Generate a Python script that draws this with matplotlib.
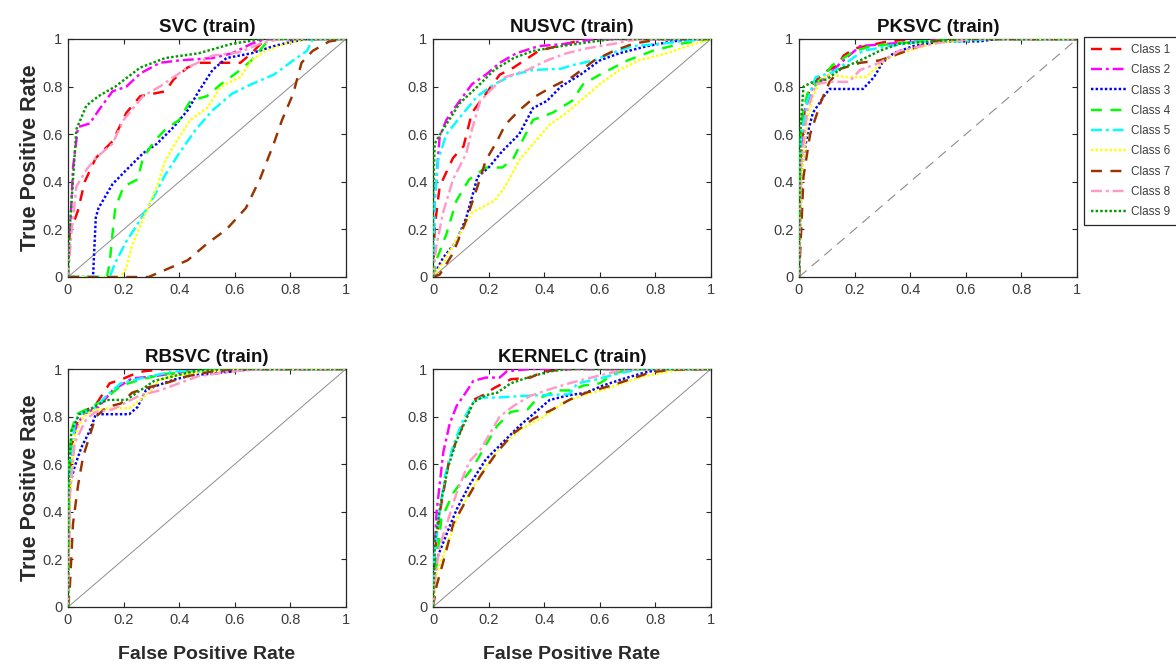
import matplotlib
matplotlib.use("Agg")
import matplotlib.pyplot as plt
from matplotlib.ticker import FixedLocator, FuncFormatter

plt.rcParams["font.family"] = ["Liberation Sans", "DejaVu Sans"]

# ---------------------------------------------------------------- data
class_names = ["Class 1", "Class 2", "Class 3", "Class 4", "Class 5",
               "Class 6", "Class 7", "Class 8", "Class 9"]
class_colors = ["#ff0000", "#ff00ff", "#0000ff", "#00ff00", "#00ffff",
                "#ffff00", "#993300", "#ff99c8", "#009900"]

model_titles = ["SVC (train)", "NUSVC (train)", "PKSVC (train)",
                "RBSVC (train)", "KERNELC (train)"]

ticks = [0, 0.2, 0.4, 0.6, 0.8, 1]

# ROC points (FPR, TPR) per class, Class 1 .. Class 9
svc_roc = [
    [(0, 0), (0.006, 0.18), (0.036, 0.28), (0.06, 0.40), (0.10, 0.50), (0.16, 0.57), (0.21, 0.69),
     (0.26, 0.76), (0.35, 0.78), (0.38, 0.83), (0.43, 0.88), (0.47, 0.90), (0.62, 0.90),
     (0.66, 0.94), (0.71, 1.0), (1, 1)],
    [(0, 0), (0.018, 0.46), (0.036, 0.63), (0.078, 0.645), (0.11, 0.70), (0.16, 0.78), (0.21, 0.80),
     (0.26, 0.855), (0.33, 0.90), (0.40, 0.91), (0.52, 0.92), (0.59, 0.94), (0.66, 0.98),
     (0.71, 1.0), (1, 1)],
    [(0, 0), (0.09, 0), (0.10, 0.25), (0.11, 0.29), (0.16, 0.39), (0.21, 0.45), (0.27, 0.52),
     (0.32, 0.56), (0.38, 0.63), (0.43, 0.70), (0.47, 0.78), (0.52, 0.87), (0.57, 0.92),
     (0.66, 0.94), (0.74, 0.97), (0.81, 0.99), (0.86, 1.0), (1, 1)],
    [(0, 0), (0.14, 0), (0.15, 0.06), (0.16, 0.18), (0.17, 0.29), (0.20, 0.38), (0.25, 0.41),
     (0.27, 0.50), (0.31, 0.57), (0.35, 0.62), (0.40, 0.66), (0.44, 0.74), (0.50, 0.76),
     (0.55, 0.81), (0.62, 0.87), (0.66, 0.91), (0.71, 0.98), (0.74, 1.0), (1, 1)],
    [(0, 0), (0.15, 0), (0.17, 0.06), (0.21, 0.15), (0.26, 0.24), (0.31, 0.34), (0.35, 0.43),
     (0.40, 0.52), (0.46, 0.62), (0.52, 0.70), (0.59, 0.77), (0.66, 0.81), (0.74, 0.85),
     (0.81, 0.91), (0.86, 0.95), (0.88, 1.0), (1, 1)],
    [(0, 0), (0.19, 0), (0.21, 0.04), (0.23, 0.13), (0.28, 0.27), (0.32, 0.38), (0.35, 0.49),
     (0.39, 0.57), (0.44, 0.66), (0.50, 0.71), (0.55, 0.80), (0.62, 0.84), (0.66, 0.91),
     (0.71, 0.95), (0.78, 0.98), (0.86, 1.0), (1, 1)],
    [(0, 0), (0.29, 0), (0.35, 0.03), (0.43, 0.07), (0.50, 0.14), (0.57, 0.20), (0.64, 0.29),
     (0.69, 0.41), (0.74, 0.56), (0.77, 0.66), (0.81, 0.77), (0.84, 0.90), (0.88, 0.95),
     (0.94, 0.99), (1, 1)],
    [(0, 0), (0.012, 0.18), (0.03, 0.38), (0.066, 0.45), (0.10, 0.50), (0.16, 0.56), (0.20, 0.66),
     (0.27, 0.76), (0.33, 0.80), (0.38, 0.84), (0.43, 0.88), (0.52, 0.93), (0.62, 0.945),
     (0.69, 0.98), (0.76, 1.0), (1, 1)],
    [(0, 0), (0.006, 0.20), (0.03, 0.62), (0.066, 0.72), (0.11, 0.76), (0.17, 0.80), (0.26, 0.88),
     (0.35, 0.92), (0.47, 0.94), (0.59, 0.98), (0.70, 1.0), (1, 1)],
]

nusvc_roc = [
    [(0, 0), (0.006, 0.21), (0.024, 0.38), (0.072, 0.50), (0.11, 0.55), (0.14, 0.69), (0.19, 0.77),
     (0.24, 0.85), (0.29, 0.88), (0.38, 0.95), (0.48, 0.98), (0.55, 1.0), (1, 1)],
    [(0, 0), (0.006, 0.32), (0.024, 0.59), (0.048, 0.66), (0.096, 0.74), (0.14, 0.81), (0.19, 0.85),
     (0.24, 0.90), (0.30, 0.94), (0.38, 0.97), (0.48, 0.98), (0.58, 1.0), (1, 1)],
    [(0, 0), (0.036, 0.08), (0.084, 0.15), (0.12, 0.25), (0.16, 0.42), (0.20, 0.46), (0.25, 0.53),
     (0.31, 0.60), (0.36, 0.71), (0.41, 0.74), (0.46, 0.80), (0.53, 0.85), (0.60, 0.91),
     (0.67, 0.94), (0.77, 0.97), (0.86, 0.99), (0.94, 1.0), (1, 1)],
    [(0, 0), (0.012, 0.07), (0.048, 0.18), (0.084, 0.32), (0.13, 0.41), (0.19, 0.46), (0.25, 0.46),
     (0.29, 0.50), (0.32, 0.57), (0.36, 0.66), (0.43, 0.69), (0.50, 0.74), (0.54, 0.81),
     (0.60, 0.85), (0.70, 0.91), (0.79, 0.95), (0.89, 0.98), (1, 1)],
    [(0, 0), (0.006, 0.32), (0.018, 0.49), (0.048, 0.60), (0.096, 0.67), (0.16, 0.76), (0.22, 0.81),
     (0.29, 0.85), (0.36, 0.87), (0.46, 0.875), (0.50, 0.89), (0.58, 0.91), (0.64, 0.94),
     (0.72, 0.97), (0.82, 0.98), (0.89, 0.99), (1, 1)],
    [(0, 0), (0.036, 0.06), (0.096, 0.18), (0.14, 0.27), (0.22, 0.32), (0.26, 0.38), (0.31, 0.49),
     (0.36, 0.56), (0.42, 0.64), (0.48, 0.69), (0.53, 0.74), (0.60, 0.81), (0.67, 0.87),
     (0.74, 0.91), (0.84, 0.94), (0.94, 0.98), (1, 1)],
    [(0, 0), (0.024, 0.01), (0.072, 0.10), (0.12, 0.24), (0.16, 0.38), (0.19, 0.49), (0.23, 0.57),
     (0.26, 0.64), (0.31, 0.70), (0.37, 0.76), (0.43, 0.80), (0.50, 0.84), (0.58, 0.91),
     (0.65, 0.95), (0.72, 0.98), (0.82, 1.0), (1, 1)],
    [(0, 0), (0.012, 0.13), (0.036, 0.27), (0.072, 0.41), (0.12, 0.52), (0.14, 0.62), (0.17, 0.74),
     (0.22, 0.80), (0.26, 0.84), (0.34, 0.87), (0.41, 0.91), (0.48, 0.94), (0.55, 0.96),
     (0.65, 0.98), (0.74, 1.0), (1, 1)],
    [(0, 0), (0.0, 0.32), (0.006, 0.56), (0.036, 0.62), (0.096, 0.73), (0.16, 0.80), (0.22, 0.87),
     (0.29, 0.92), (0.36, 0.95), (0.46, 0.97), (0.58, 0.99), (0.65, 1.0), (1, 1)],
]

pksvc_roc = [
    [(0, 0), (0.004, 0.46), (0.02, 0.70), (0.04, 0.80), (0.09, 0.86), (0.14, 0.89), (0.16, 0.93),
     (0.20, 0.96), (0.24, 0.97), (0.32, 0.99), (0.41, 1.0), (1, 1)],
    [(0, 0), (0.004, 0.43), (0.02, 0.70), (0.05, 0.80), (0.10, 0.84), (0.15, 0.90), (0.22, 0.97),
     (0.32, 0.98), (0.44, 0.99), (0.56, 1.0), (1, 1)],
    [(0, 0), (0.01, 0.46), (0.03, 0.60), (0.05, 0.69), (0.09, 0.76), (0.11, 0.79), (0.17, 0.79),
     (0.23, 0.79), (0.27, 0.84), (0.30, 0.90), (0.34, 0.94), (0.41, 0.97), (0.51, 0.99),
     (0.65, 0.99), (0.71, 1.0), (1, 1)],
    [(0, 0), (0.004, 0.52), (0.01, 0.67), (0.03, 0.77), (0.08, 0.83), (0.12, 0.89), (0.20, 0.95),
     (0.26, 0.97), (0.34, 0.98), (0.44, 0.99), (0.63, 1.0), (1, 1)],
    [(0, 0), (0.006, 0.57), (0.03, 0.74), (0.06, 0.84), (0.12, 0.86), (0.17, 0.90), (0.23, 0.95),
     (0.32, 0.97), (0.44, 0.99), (0.58, 0.99), (0.68, 1.0), (1, 1)],
    [(0, 0), (0.01, 0.43), (0.03, 0.66), (0.05, 0.76), (0.08, 0.83), (0.11, 0.85), (0.17, 0.84),
     (0.24, 0.84), (0.28, 0.88), (0.32, 0.92), (0.39, 0.95), (0.48, 0.98), (0.63, 1.0), (1, 1)],
    [(0, 0), (0.004, 0.10), (0.01, 0.25), (0.016, 0.42), (0.04, 0.60), (0.06, 0.67), (0.08, 0.74),
     (0.11, 0.82), (0.15, 0.875), (0.22, 0.90), (0.29, 0.91), (0.34, 0.93), (0.41, 0.96),
     (0.48, 0.99), (0.58, 1.0), (1, 1)],
    [(0, 0), (0.006, 0.46), (0.03, 0.70), (0.06, 0.81), (0.11, 0.82), (0.18, 0.82), (0.22, 0.87),
     (0.29, 0.90), (0.36, 0.95), (0.44, 0.97), (0.53, 0.99), (0.63, 1.0), (1, 1)],
    [(0, 0), (0.004, 0.60), (0.016, 0.80), (0.05, 0.82), (0.10, 0.83), (0.15, 0.875), (0.22, 0.91),
     (0.29, 0.95), (0.36, 0.98), (0.48, 0.99), (0.58, 1.0), (1, 1)],
]

rbsvc_roc = [
    [(0, 0), (0.004, 0.46), (0.012, 0.67), (0.04, 0.81), (0.10, 0.85), (0.15, 0.94), (0.19, 0.955),
     (0.23, 0.975), (0.27, 0.99), (0.35, 1.0), (1, 1)],
    [(0, 0), (0.006, 0.52), (0.024, 0.74), (0.054, 0.81), (0.11, 0.84), (0.16, 0.91), (0.23, 0.96),
     (0.31, 0.97), (0.43, 0.99), (0.59, 0.99), (0.66, 1.0), (1, 1)],
    [(0, 0), (0.006, 0.51), (0.024, 0.59), (0.048, 0.67), (0.078, 0.74), (0.10, 0.81), (0.15, 0.81),
     (0.22, 0.81), (0.25, 0.84), (0.28, 0.91), (0.32, 0.93), (0.38, 0.955), (0.45, 0.975),
     (0.52, 0.98), (0.59, 0.99), (0.66, 1.0), (1, 1)],
    [(0, 0), (0.004, 0.60), (0.012, 0.74), (0.03, 0.81), (0.066, 0.83), (0.13, 0.87), (0.19, 0.93),
     (0.26, 0.955), (0.35, 0.98), (0.47, 0.99), (0.59, 1.0), (1, 1)],
    [(0, 0), (0.006, 0.55), (0.024, 0.77), (0.04, 0.81), (0.09, 0.83), (0.14, 0.89), (0.19, 0.94),
     (0.26, 0.96), (0.38, 0.99), (0.47, 0.99), (0.59, 1.0), (1, 1)],
    [(0, 0), (0.006, 0.44), (0.024, 0.72), (0.054, 0.80), (0.10, 0.83), (0.15, 0.835), (0.22, 0.835),
     (0.26, 0.87), (0.29, 0.90), (0.33, 0.955), (0.40, 0.975), (0.50, 0.99), (0.62, 1.0), (1, 1)],
    [(0, 0), (0.006, 0.07), (0.012, 0.21), (0.018, 0.35), (0.036, 0.51), (0.054, 0.63), (0.078, 0.72),
     (0.10, 0.80), (0.14, 0.84), (0.19, 0.855), (0.23, 0.90), (0.28, 0.92), (0.35, 0.94),
     (0.43, 0.97), (0.52, 0.99), (0.62, 1.0), (1, 1)],
    [(0, 0), (0.006, 0.46), (0.024, 0.69), (0.066, 0.79), (0.10, 0.82), (0.16, 0.83), (0.21, 0.86),
     (0.26, 0.89), (0.33, 0.91), (0.40, 0.94), (0.47, 0.97), (0.59, 0.99), (0.71, 1.0), (1, 1)],
    [(0, 0), (0.002, 0.53), (0.012, 0.74), (0.04, 0.81), (0.078, 0.83), (0.14, 0.87), (0.21, 0.87),
     (0.26, 0.91), (0.31, 0.95), (0.38, 0.97), (0.47, 0.995), (0.62, 1.0), (1, 1)],
]

kernelc_roc = [
    [(0, 0), (0.007, 0.23), (0.025, 0.40), (0.043, 0.52), (0.06, 0.63), (0.085, 0.70), (0.12, 0.80),
     (0.145, 0.87), (0.18, 0.89), (0.22, 0.92), (0.28, 0.957), (0.35, 0.964), (0.40, 0.99),
     (0.49, 1.0), (1, 1)],
    [(0, 0), (0.001, 0.14), (0.013, 0.40), (0.037, 0.65), (0.06, 0.77), (0.085, 0.845), (0.11, 0.887),
     (0.145, 0.95), (0.19, 0.964), (0.24, 0.964), (0.265, 0.99), (0.35, 1.0), (1, 1)],
    [(0, 0), (0.013, 0.20), (0.05, 0.31), (0.085, 0.41), (0.13, 0.51), (0.19, 0.62), (0.25, 0.69),
     (0.31, 0.76), (0.37, 0.82), (0.42, 0.87), (0.49, 0.89), (0.55, 0.90), (0.61, 0.93),
     (0.68, 0.957), (0.76, 0.985), (0.83, 1.0), (1, 1)],
    [(0, 0), (0.007, 0.12), (0.03, 0.37), (0.073, 0.48), (0.145, 0.59), (0.18, 0.66), (0.23, 0.76),
     (0.28, 0.82), (0.34, 0.83), (0.37, 0.87), (0.445, 0.91), (0.50, 0.91), (0.54, 0.93),
     (0.60, 0.94), (0.66, 0.985), (0.73, 1.0), (1, 1)],
    [(0, 0), (0.001, 0.17), (0.02, 0.37), (0.043, 0.55), (0.073, 0.68), (0.11, 0.79), (0.145, 0.86),
     (0.17, 0.88), (0.23, 0.88), (0.325, 0.887), (0.49, 0.894), (0.52, 0.94), (0.59, 0.957),
     (0.68, 0.985), (0.76, 1.0), (1, 1)],
    [(0, 0), (0.013, 0.14), (0.05, 0.26), (0.085, 0.37), (0.13, 0.48), (0.19, 0.59), (0.25, 0.68),
     (0.32, 0.75), (0.40, 0.80), (0.47, 0.86), (0.54, 0.89), (0.62, 0.915), (0.68, 0.94),
     (0.76, 0.97), (0.83, 0.985), (0.92, 1.0), (1, 1)],
    [(0, 0), (0.013, 0.09), (0.037, 0.19), (0.073, 0.35), (0.12, 0.45), (0.17, 0.55), (0.23, 0.65),
     (0.29, 0.73), (0.36, 0.79), (0.43, 0.83), (0.49, 0.87), (0.55, 0.90), (0.64, 0.93),
     (0.71, 0.957), (0.78, 0.985), (0.85, 0.996), (1, 1)],
    [(0, 0), (0.007, 0.12), (0.025, 0.26), (0.05, 0.35), (0.085, 0.48), (0.13, 0.61), (0.17, 0.66),
     (0.20, 0.72), (0.24, 0.80), (0.29, 0.845), (0.35, 0.887), (0.42, 0.915), (0.49, 0.94),
     (0.59, 0.97), (0.66, 0.99), (0.73, 1.0), (1, 1)],
    [(0, 0), (0.007, 0.28), (0.03, 0.45), (0.055, 0.59), (0.085, 0.70), (0.12, 0.79), (0.145, 0.86),
     (0.19, 0.89), (0.23, 0.90), (0.28, 0.94), (0.34, 0.964), (0.42, 0.99), (0.49, 1.0), (1, 1)],
]

model_rocs = [svc_roc, nusvc_roc, pksvc_roc, rbsvc_roc, kernelc_roc]

# ------------------------------------------------------------- styling
line_dashes = [(0, (4.5, 3.5)), (0, (4.5, 1.6, 1.2, 1.6)), (0, (1, 0.9)),
               (0, (4.5, 3.5)), (0, (4.5, 1.6, 1.2, 1.6)), (0, (1, 0.9)),
               (0, (4.5, 3.5)), (0, (4.5, 1.6, 1.2, 1.6)), (0, (1, 0.9))]
LW = 1.75
TEXT_GRAY = "#3c3c3c"

W, H = 1176, 666
fig = plt.figure(figsize=(W / 100, H / 100), dpi=100)

# panel boxes in pixels: left, top
boxes = [(68, 39), (433, 39), (799, 39), (68, 369), (433, 369)]
bw, bh = 278, 238


def tick_fmt(v, _pos):
    if abs(v) < 1e-9:
        return "0"
    if abs(v - 1) < 1e-9:
        return "1"
    return f"{v:.1f}"


axes = []
for k, ((lx, ty), title, rocs) in enumerate(zip(boxes, model_titles, model_rocs)):
    ax = fig.add_axes([lx / W, 1 - (ty + bh) / H, bw / W, bh / H])
    axes.append(ax)

    # chance diagonal
    if title.startswith("PKSVC"):
        ax.plot([0, 1], [0, 1], color="#8c8c8c", lw=0.8, linestyle=(0, (9, 6)), zorder=1)
    else:
        ax.plot([0, 1], [0, 1], color="#8c8c8c", lw=0.7, zorder=1)

    for c, pts in enumerate(rocs):
        fpr = [p[0] for p in pts]
        tpr = [p[1] for p in pts]
        ax.plot(fpr, tpr, color=class_colors[c], lw=LW, linestyle=line_dashes[c],
                label=class_names[c], zorder=2 + c, dash_capstyle="butt")

    ax.set_xlim(0, 1)
    ax.set_ylim(0, 1)
    ax.xaxis.set_major_locator(FixedLocator(ticks))
    ax.yaxis.set_major_locator(FixedLocator(ticks))
    ax.xaxis.set_major_formatter(FuncFormatter(tick_fmt))
    ax.yaxis.set_major_formatter(FuncFormatter(tick_fmt))
    ax.tick_params(direction="in", length=3.5, width=0.8, colors="#262626",
                   labelcolor=TEXT_GRAY, labelsize=10.5, top=True, right=True, pad=4)
    for sp in ax.spines.values():
        sp.set_color("#262626")
        sp.set_linewidth(0.9)

    ax.set_title(title, fontsize=13.5, fontweight="bold", color="#111111", pad=5)
    if k in (0, 3):
        ax.set_ylabel("True Positive Rate", fontsize=15.5, fontweight="bold",
                      color="#2a2a2a", labelpad=1)
    if k in (3, 4):
        ax.set_xlabel("False Positive Rate", fontsize=14, fontweight="bold",
                      color="#2a2a2a", labelpad=14)

# legend beside the third panel
handles, labels = axes[2].get_legend_handles_labels()
leg = fig.legend(handles, labels, loc="upper left",
                 bbox_to_anchor=(1084 / W, 1 - 37 / H), borderaxespad=0,
                 fontsize=8.5, handlelength=3.0, handletextpad=0.35,
                 labelspacing=0.7, borderpad=0.6, fancybox=False,
                 framealpha=1, edgecolor="#262626")
leg.get_frame().set_linewidth(0.9)
for t in leg.get_texts():
    t.set_color(TEXT_GRAY)

fig.savefig("out.png", dpi=100, facecolor="white")
